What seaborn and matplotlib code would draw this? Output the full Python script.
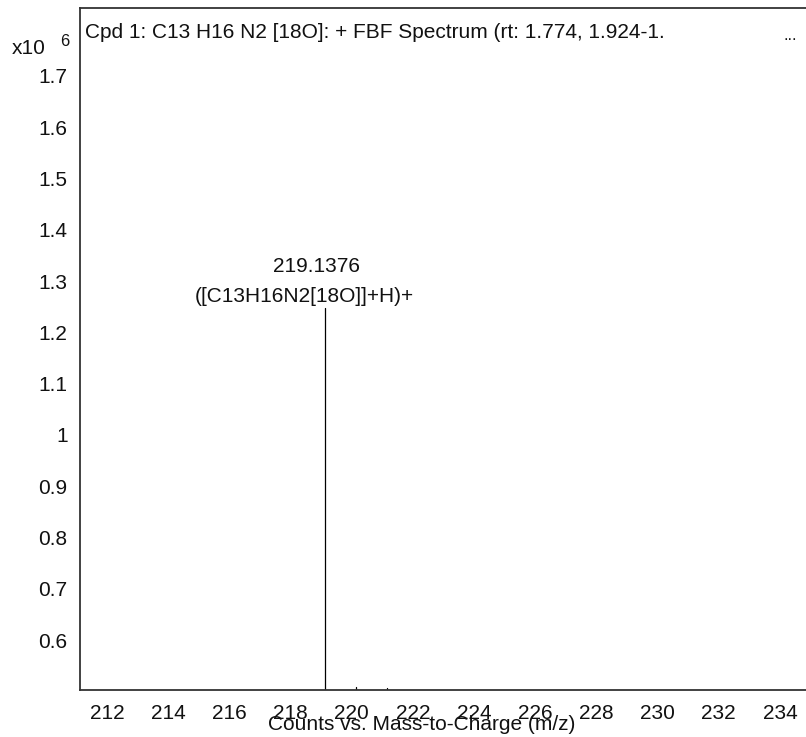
import matplotlib
matplotlib.use("Agg")
import matplotlib.pyplot as plt
import seaborn as sns
import pandas as pd
import numpy as np

# data (counts in units of 1e6)
peak_mz = [219.1376, 220.14, 221.14]
peak_counts = [1.2475, 0.5075, 0.5065]
peak_mass_label = ["219.1376", "", ""]
peak_ion_label = ["([C13H16N2[18O]]+H)+", "", ""]
x_ticks = [212, 214, 216, 218, 220, 222, 224, 226, 228, 230, 232, 234]
y_ticks = [0.6, 0.7, 0.8, 0.9, 1.0, 1.1, 1.2, 1.3, 1.4, 1.5, 1.6, 1.7]
title = "Cpd 1: C13 H16 N2 [18O]: + FBF Spectrum (rt: 1.774, 1.924-1."
xlabel = "Counts vs. Mass-to-Charge (m/z)"

sns.set_theme(style="white")
plt.rcParams['font.family'] = ['Liberation Sans', 'DejaVu Sans']

rows = []
for i, (m, c) in enumerate(zip(peak_mz, peak_counts)):
    rows.append({"mz": m, "counts": 0.0, "peak": i, "o": 0})
    rows.append({"mz": m, "counts": c, "peak": i, "o": 1})
df = pd.DataFrame(rows)

FS = 15
fig = plt.figure(figsize=(8.06, 7.37), dpi=100)
ax = fig.add_axes([80/806, 1-690/737, 726/806, (690-8)/737])

sns.lineplot(data=df, x="mz", y="counts", units="peak", estimator=None,
             sort=False, color="black", linewidth=0.9, ax=ax, legend=False)

ax.set_xlim(211.12, 234.85)
ax.set_ylim(0.5025, 1.8326)
ax.set_xticks(x_ticks)
ax.set_xticklabels([str(t) for t in x_ticks])
ax.set_yticks(y_ticks)
ax.set_yticklabels([f"{t:g}" for t in y_ticks])
ax.tick_params(axis="both", which="major", length=5, width=0.8, color="#555555",
               labelsize=FS, labelcolor="#111111", direction="out", pad=4)
ax.tick_params(axis="x", pad=5)
ax.set_xlabel("")
ax.set_ylabel("")
for s in ["left", "bottom", "top"]:
    ax.spines[s].set_color("#333333")
    ax.spines[s].set_linewidth(1.3)
ax.spines["right"].set_visible(False)

for m, c, l1, l2 in zip(peak_mz, peak_counts, peak_mass_label, peak_ion_label):
    if l1:
        ax.annotate(l1, xy=(m, c), xytext=(-6, 30), textcoords="offset points",
                    ha="center", va="center", fontsize=FS, color="#111111")
    if l2:
        ax.annotate(l2, xy=(m, c), xytext=(-15, 8), textcoords="offset points",
                    ha="center", va="center", fontsize=FS, color="#111111")

fig.text(85/806, 1-33/737, title, fontsize=FS, ha="left", va="center", color="#111111")
fig.text(790/806, 1-35/737, "...", fontsize=12, ha="center", va="center", color="#111111")
fig.text(12/806, 1-48/737, "x10", fontsize=FS, ha="left", va="center", color="#111111")
fig.text(60/806, 1-42/737, "6", fontsize=12, ha="left", va="center", color="#111111")
fig.text(422/806, 1-724/737, xlabel, fontsize=FS, ha="center", va="center", color="#111111")

fig.savefig("out.png", dpi=100)
